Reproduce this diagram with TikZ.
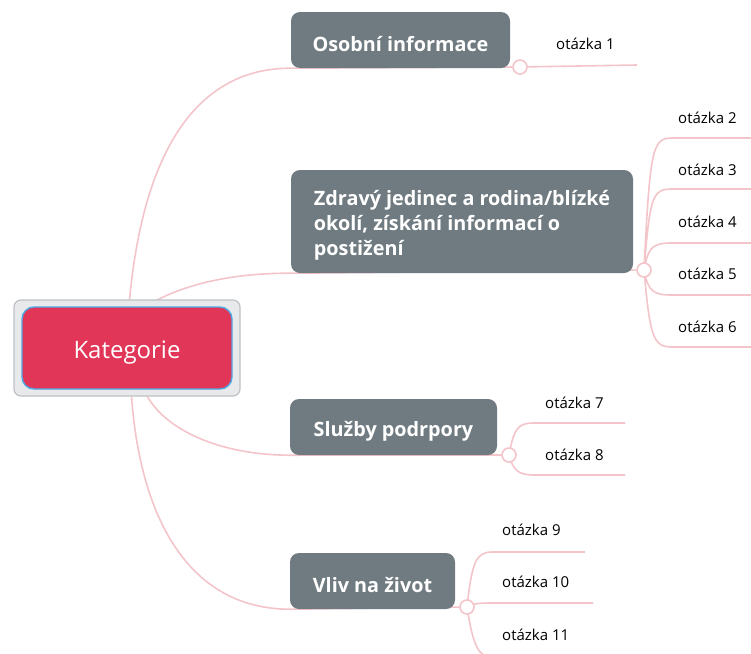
\documentclass[tikz,border=0pt]{standalone}
\usepackage{fontspec}
\setmainfont{Open Sans}
\usetikzlibrary{calc,backgrounds}
\definecolor{topicgray}{RGB}{111,123,128}
\definecolor{catred}{RGB}{226,54,88}
\definecolor{linkpink}{RGB}{243,196,202}
\definecolor{catblue}{RGB}{77,170,230}
\definecolor{framegray}{RGB}{232,233,235}
\definecolor{frameedge}{RGB}{190,194,197}
\newcommand{\lowstrut}{\rule{0pt}{23pt}}
\tikzset{
  topic/.style={fill=topicgray, rounded corners=9pt, text=white, font=\fontsize{19.8}{25}\selectfont\bfseries, inner sep=0pt},
  conn/.style={draw=linkpink, line width=1.6pt},
  knob/.style={circle, draw=linkpink, fill=white, line width=1.6pt, minimum size=14pt, inner sep=0pt},
  qlabel/.style={anchor=west, font=\fontsize{15}{17}\selectfont, text=black, inner sep=0pt}
}
\begin{document}
\begin{tikzpicture}[x=1pt,y=-1pt]
\useasboundingbox (0,0) rectangle (751,653);
% central node
\node[draw=frameedge, fill=framegray, line width=1.2pt, rounded corners=7pt, minimum width=226pt, minimum height=96pt, inner sep=0pt] (cat) at (127,348) {};
\node[draw=catblue, fill=catred, line width=1.4pt, rounded corners=12pt, minimum width=210pt, minimum height=82pt, inner sep=0pt, text=white, font=\fontsize{24}{28}\selectfont] (catin) at (127,348) {\rule{0pt}{27pt}Kategorie};
% topics
\node[topic, minimum width=219pt, minimum height=56pt] (osob) at (400.5,40) {\lowstrut Osobní informace};
\node[topic, minimum width=342pt, minimum height=103pt, align=left] (zdr) at (462,221.5) {\lowstrut Zdravý jedinec a rodina/blízké\\okolí, získání informací o\\postižení};
\node[topic, minimum width=207pt, minimum height=56pt] (sluz) at (393.5,427) {\lowstrut Služby podrpory};
\node[topic, minimum width=165pt, minimum height=56pt] (vliv) at (372.5,581) {\lowstrut Vliv na život};
% knobs
\node[knob] (oc) at (520,67) {};
\node[knob] (zc) at (644,270) {};
\node[knob] (sc) at (509,455) {};
\node[knob] (vc) at (467,607) {};
% branch end coordinates
\coordinate (q1) at (637,65);
\coordinate (q2) at (760,138);
\coordinate (q3) at (760,189);
\coordinate (q4) at (760,243);
\coordinate (q5) at (760,295);
\coordinate (q6) at (760,347);
\coordinate (q7) at (625,423);
\coordinate (q8) at (625,475);
\coordinate (q9) at (585,552);
\coordinate (q10) at (593,603);
\coordinate (q11) at (600,658);
% labels
\node[qlabel] (l1) at (556,44) {otázka 1};
\node[qlabel] (l2) at (678,118) {otázka 2};
\node[qlabel] (l3) at (678,170) {otázka 3};
\node[qlabel] (l4) at (678,222) {otázka 4};
\node[qlabel] (l5) at (678,274) {otázka 5};
\node[qlabel] (l6) at (678,327) {otázka 6};
\node[qlabel] (l7) at (545,403) {otázka 7};
\node[qlabel] (l8) at (545,455) {otázka 8};
\node[qlabel] (l9) at (502,530) {otázka 9};
\node[qlabel] (l10) at (502,582) {otázka 10};
\node[qlabel] (l11) at (502,635) {otázka 11};
\begin{scope}[on background layer]
  % central to topics
  \draw[conn] ($(cat.north west)+(116,2)$) .. controls (145,130) and (210,68) .. (osob.south west) -- (oc);
  \draw[conn] ($(cat.north west)+(141,2)$) .. controls (185,285) and (230,273) .. (zdr.south west) -- (zc);
  \draw[conn] ($(cat.south west)+(133,-2)$) .. controls (165,430) and (220,455) .. (sluz.south west) -- (sc);
  \draw[conn] ($(cat.south west)+(118,-2)$) .. controls (140,520) and (190,609) .. (vliv.south west) -- (vc);
  % topic 1
  \draw[conn] (oc.center) -- (q1);
  % topic 2
  \draw[conn] (zc.center) .. controls (650,150) and (652,138) .. (672,138) -- (q2);
  \draw[conn] (zc.center) .. controls (650,197) and (652,189) .. (672,189) -- (q3);
  \draw[conn] (zc.center) .. controls (648,247) and (653,243) .. (672,243) -- (q4);
  \draw[conn] (zc.center) .. controls (648,292) and (654,295) .. (672,295) -- (q5);
  \draw[conn] (zc.center) .. controls (650,337) and (653,347) .. (672,347) -- (q6);
  % topic 3
  \draw[conn] (sc.center) .. controls (514,428) and (518,423) .. (534,423) -- (q7);
  \draw[conn] (sc.center) .. controls (513,470) and (518,475) .. (534,475) -- (q8);
  % topic 4
  \draw[conn] (vc.center) .. controls (472,562) and (476,552) .. (492,552) -- (q9);
  \draw[conn] (vc.center) .. controls (472,604) and (476,603) .. (492,603) -- (q10);
  \draw[conn] (vc.center) .. controls (473,645) and (478,658) .. (494,658) -- (q11);
\end{scope}
\end{tikzpicture}
\end{document}
